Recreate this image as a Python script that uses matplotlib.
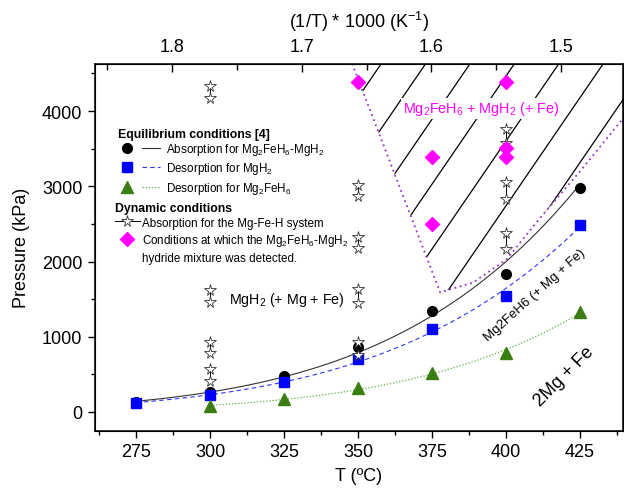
import numpy as np
import matplotlib
matplotlib.use('Agg')
import matplotlib.pyplot as plt
from matplotlib.lines import Line2D
from matplotlib.legend_handler import HandlerTuple
from matplotlib.patches import Polygon
from matplotlib.ticker import MultipleLocator

plt.rcParams['font.family'] = ['Liberation Sans', 'DejaVu Sans']
plt.rcParams['mathtext.default'] = 'regular'

# equilibrium conditions, ref [4]
abs_T = [275, 300, 325, 350, 375, 400, 425]
abs_P = [135, 265, 475, 870, 1340, 1830, 2980]
des_mgh2_T = [275, 300, 325, 350, 375, 400, 425]
des_mgh2_P = [125, 222, 402, 700, 1105, 1535, 2485]
des_fe_T = [300, 325, 350, 375, 400, 425]
des_fe_P = [85, 169, 315, 515, 780, 1330]

# dynamic conditions: absorption steps (start / end pressure)
dyn_T = [300, 300, 300, 300, 350, 350, 350, 350, 400, 400, 400]
dyn_P_lo = [412, 780, 1463, 4175, 754, 1455, 2181, 2872, 2164, 2829, 3582]
dyn_P_hi = [577, 931, 1622, 4330, 931, 1632, 2327, 3014, 2376, 3059, 3759]

# Mg2FeH6-MgH2 mixture detected
mix_T = [350, 375, 375, 400, 400, 400]
mix_P = [4390, 2500, 3396, 3383, 3503, 4390]

# border of the Mg2FeH6 + MgH2 region
bound_T = [348.0, 377.7, 388.9, 400.2, 411.1, 417.6, 425.0, 439.5]
bound_P = [4630, 1590, 1720, 2030, 2560, 2860, 3200, 3900]

inv_ticks = [1.8, 1.7, 1.6, 1.5]

XMIN, XMAX = 261.1, 439.5
YMIN, YMAX = -253, 4630


def vant_hoff(T, P):
    # ln P linear in 1/T
    T = np.asarray(T, dtype=float)
    coef = np.polyfit(1.0 / (T + 273.15), np.log(P), 1)
    t = np.linspace(T.min(), T.max(), 120)
    return t, np.exp(np.polyval(coef, 1.0 / (t + 273.15)))


fig = plt.figure(figsize=(6.24, 4.89), dpi=100)
ax = fig.add_axes([0.1522, 0.1166, 0.8462, 0.7511])
ax.set_xlim(XMIN, XMAX)
ax.set_ylim(YMIN, YMAX)

# hatched region
region = Polygon(list(zip(bound_T, bound_P)) + [(XMAX, YMAX)], closed=True,
                 facecolor='none', edgecolor='none')
ax.add_patch(region)
for t0 in np.arange(367.3, 240, -15.0):
    hl, = ax.plot([t0, t0 + 100], [0, 100 * 57.5], color='black', lw=0.9, zorder=1)
    hl.set_clip_path(region)
ax.plot(bound_T, bound_P, color='#9932CC', ls=(0, (1, 2)), lw=1.3, zorder=2)

# fitted curves
t, p = vant_hoff(abs_T, abs_P)
ax.plot(t, p, color='#333333', lw=0.8, zorder=2)
t, p = vant_hoff(des_mgh2_T, des_mgh2_P)
ax.plot(t, p, color='#3333FF', lw=0.8, ls=(0, (4, 3)), zorder=2)
t, p = vant_hoff(des_fe_T, des_fe_P)
ax.plot(t, p, color='#66AA44', lw=0.9, ls=(0, (1, 1.5)), zorder=2)

for T, lo, hi in zip(dyn_T, dyn_P_lo, dyn_P_hi):
    ax.plot([T, T], [lo, hi], color='black', lw=0.7, marker='*', ms=8.5,
            mfc='white', mec='#333333', mew=0.6, zorder=4)

ax.plot(abs_T, abs_P, 'o', color='black', ms=7, zorder=3)
ax.plot(des_mgh2_T, des_mgh2_P, 's', color='#0000FF', ms=7, zorder=3)
ax.plot(des_fe_T, des_fe_P, '^', color='#3A7D12', ms=8, zorder=3)
ax.plot(mix_T, mix_P, 'D', color='#FF00FF', ms=7, zorder=5)

# region labels
ax.text(391.5, 4040, 'Mg$_2$FeH$_6$ + MgH$_2$ (+ Fe)', color='#FF00FF', fontsize=10.4,
        ha='center', va='center', zorder=6,
        bbox=dict(facecolor='white', edgecolor='none', pad=1))
ax.text(326, 1500, 'MgH$_2$ (+ Mg + Fe)', fontsize=10.3, ha='center', va='center')
ax.text(409.8, 1565, 'Mg2FeH6 (+ Mg + Fe)', fontsize=9.5, rotation=42,
        ha='center', va='center', rotation_mode='anchor')
ax.text(419.5, 480, '2Mg + Fe', fontsize=13, rotation=45,
        ha='center', va='center', rotation_mode='anchor')

# axes and ticks
ax.xaxis.set_major_locator(MultipleLocator(25))
ax.xaxis.set_minor_locator(MultipleLocator(12.5))
ax.yaxis.set_major_locator(MultipleLocator(1000))
ax.yaxis.set_minor_locator(MultipleLocator(500))
ax.tick_params(which='both', direction='out', labelsize=13, width=1.0)
ax.tick_params(which='major', length=5, pad=4)
ax.tick_params(which='minor', length=3)
ax.set_xlabel('T (ºC)', fontsize=13, labelpad=5)
ax.set_ylabel('Pressure (kPa)', fontsize=13, labelpad=9)
for s in ax.spines.values():
    s.set_linewidth(1.1)

ax2 = ax.twiny()
ax2.set_xlim(1.8594, 1.4522)
ax2.set_xticks(inv_ticks)
ax2.xaxis.set_minor_locator(MultipleLocator(0.05))
ax2.tick_params(which='both', direction='in', labelsize=13, width=1.0, pad=6)
ax2.tick_params(which='major', length=6)
ax2.tick_params(which='minor', length=4)
ax2.set_xticklabels([f'{v:.1f}' for v in inv_ticks])
ax2.set_xlabel('(1/T) * 1000 (K$^{-1}$)', fontsize=13, labelpad=8)

# legends
hmap = {tuple: HandlerTuple(ndivide=None, pad=0.5)}
h1 = [(Line2D([], [], ls='none', marker='o', color='black', ms=7),
       Line2D([], [], color='#333333', lw=0.8)),
      (Line2D([], [], ls='none', marker='s', color='#0000FF', ms=7),
       Line2D([], [], color='#3333FF', lw=0.8, ls=(0, (4, 3)))),
      (Line2D([], [], ls='none', marker='^', color='#3A7D12', ms=8),
       Line2D([], [], color='#66AA44', lw=0.9, ls=(0, (1, 1.5))))]
l1 = ['Absorption for Mg$_2$FeH$_6$-MgH$_2$', 'Desorption for MgH$_2$',
      'Desorption for Mg$_2$FeH$_6$']
leg1 = ax.legend(h1, l1, handler_map=hmap, loc='upper left',
                 bbox_to_anchor=(0.0436, 0.826), frameon=False, fontsize=8.4,
                 title='Equilibrium conditions [4]',
                 title_fontproperties={'weight': 'bold', 'size': 8.8},
                 alignment='left', handlelength=3.6, handletextpad=0.5,
                 labelspacing=0.3, borderaxespad=0, borderpad=0)
leg1._legend_box.sep = 1
ax.add_artist(leg1)

h2 = [Line2D([], [], color='black', lw=0.7, marker='*', ms=8.5, mfc='white',
             mec='#333333', mew=0.6),
      Line2D([], [], ls='none', marker='D', color='#FF00FF', ms=7),
      Line2D([], [], ls='none', marker='none')]
l2 = ['Absorption for the Mg-Fe-H system',
      'Conditions at which the Mg$_2$FeH$_6$-MgH$_2$',
      'hydride mixture was detected.']
leg2 = ax.legend(h2, l2, loc='upper left', bbox_to_anchor=(0.038, 0.624),
                 frameon=False, fontsize=8.4, title='Dynamic conditions',
                 title_fontproperties={'weight': 'bold', 'size': 8.8},
                 alignment='left', handlelength=2.1, handletextpad=0.25,
                 labelspacing=0.3, borderaxespad=0, borderpad=0)
leg2._legend_box.sep = 2

fig.savefig('out.png', dpi=100)
